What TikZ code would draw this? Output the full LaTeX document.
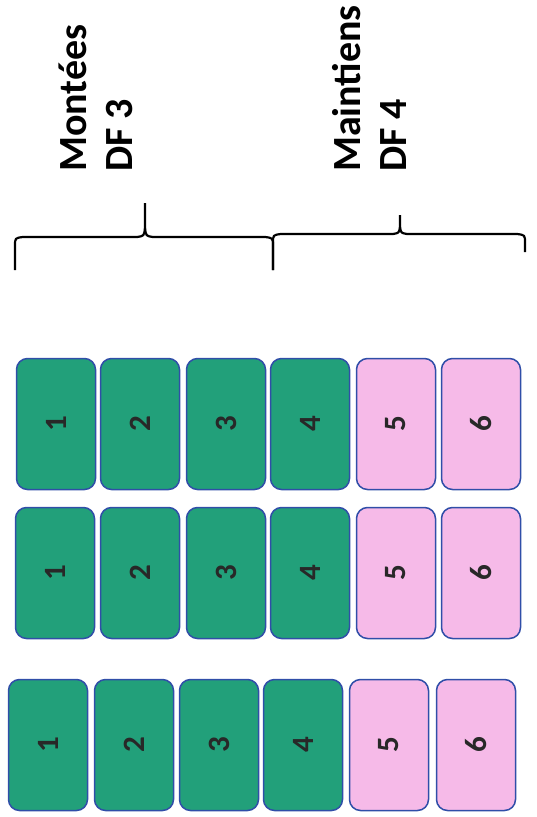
\documentclass[tikz,border=0pt]{standalone}
\usepackage{fontspec}
\setmainfont{Carlito}
\definecolor{cardgreen}{RGB}{34,160,122}
\definecolor{cardpink}{RGB}{246,186,232}
\definecolor{cardedge}{RGB}{48,78,168}
\definecolor{digit}{RGB}{40,40,40}
\begin{document}
\begin{tikzpicture}[x=1pt,y=-1pt,
  card/.style={draw=cardedge, line width=1.5pt, rounded corners=11pt,
    minimum width=79pt, minimum height=131pt, inner sep=0pt,
    font=\fontsize{31}{31}\selectfont\bfseries, text=digit},
  gcard/.style={card, fill=cardgreen},
  pcard/.style={card, fill=cardpink},
  lbl/.style={rotate=90, anchor=west, align=left, inner sep=0pt,
    font=\fontsize{40}{46}\selectfont\bfseries},
  brace/.style={line width=2.2pt, line join=round}]
\useasboundingbox (0,0) rectangle (536,817);
% labels
\node[lbl] (lab1) at (96,172) {Montées\\DF 3};
\node[lbl] (lab2) at (369,172) {Maintiens\\DF 4};
% braces
\draw[brace] (15,270) -- (15,246) .. controls (15,238) .. (23,237) -- (137,237)
  .. controls (144,236) .. (145,228) -- (145,203);
\draw[brace] (145,228) .. controls (146,236) .. (153,237) -- (265,237)
  .. controls (273,238) .. (273,246) -- (273,270);
\draw[brace] (273,270) -- (273,243) .. controls (273,235) .. (281,234) -- (393,234)
  .. controls (399,233) .. (400,227) -- (400,215);
\draw[brace] (400,227) .. controls (401,233) .. (407,234) -- (517,234)
  .. controls (525,235) .. (525,243) -- (525,252);
% row 1
\foreach \i/\x in {1/56,2/140,3/226,4/310}
  \node[gcard] (a\i) at (\x,424) {\rotatebox{90}{\i}};
\foreach \i/\x in {5/396,6/481}
  \node[pcard] (a\i) at (\x,424) {\rotatebox{90}{\i}};
% row 2
\foreach \i/\x in {1/55,2/140,3/226,4/310}
  \node[gcard] (b\i) at (\x,573) {\rotatebox{90}{\i}};
\foreach \i/\x in {5/396,6/481}
  \node[pcard] (b\i) at (\x,573) {\rotatebox{90}{\i}};
% row 3
\foreach \i/\x in {1/48,2/134,3/219,4/303}
  \node[gcard] (c\i) at (\x,745) {\rotatebox{90}{\i}};
\foreach \i/\x in {5/389,6/476}
  \node[pcard] (c\i) at (\x,745) {\rotatebox{90}{\i}};
\end{tikzpicture}
\end{document}
